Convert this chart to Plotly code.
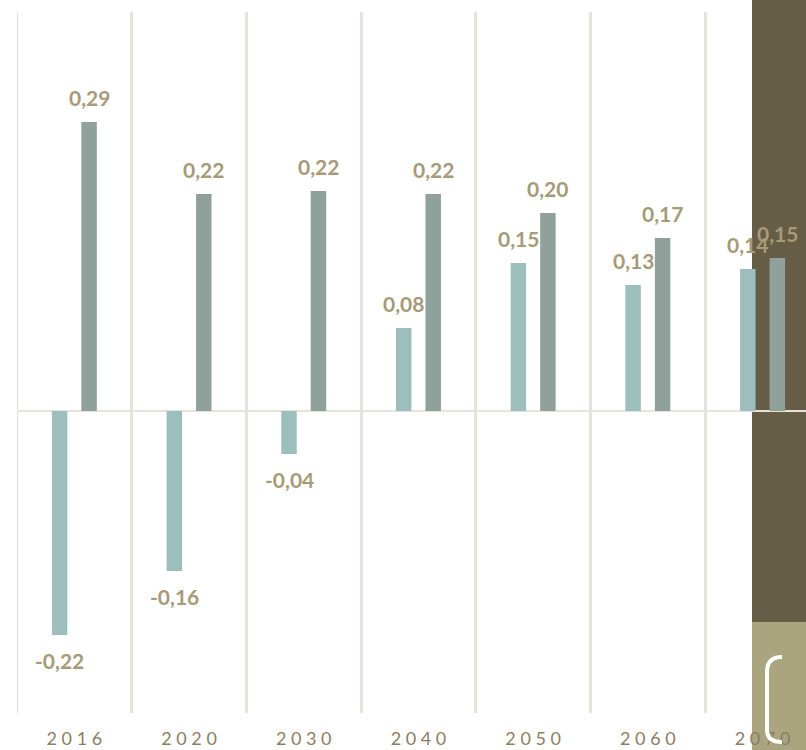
import plotly.graph_objects as go

years = ["2016", "2020", "2030", "2040", "2050", "2060", "2070"]
serie_a = [-0.224, -0.160, -0.043, 0.083, 0.148, 0.126, 0.142]
serie_b = [0.289, 0.217, 0.220, 0.217, 0.198, 0.173, 0.153]

W, H = 806, 750
L, R, T, B = 17, 0, 12, 37
PW, PH = W - L - R, H - T - B
CAT = 114.7  # px per kategori
GRID = "#E6E3DA"


# pixel -> paper coords
def pxx(x):
    return (x - L) / PW


def pxy(y):
    return (H - B - y) / PH


fig = go.Figure()
fig.add_trace(go.Bar(x=years, y=serie_a, marker=dict(color="#9CBFBD", line=dict(width=0))))
fig.add_trace(go.Bar(x=years, y=serie_b, marker=dict(color="#8FA19A", line=dict(width=0))))

# etiketter
for serie, shift in ((serie_a, -14.75), (serie_b, 14.75)):
    for i, v in enumerate(serie):
        fig.add_annotation(
            xref="x", yref="y", x=i, y=v,
            text="<b>" + f"{v:.2f}".replace(".", ",") + "</b>", showarrow=False,
            xshift=shift, yshift=25 if v >= 0 else -25,
            font=dict(family="Lato", size=21, color="#A69A78"),
        )

# vänstra gridlinjen (plotly ritar den inte i kanten)
fig.add_shape(type="line", xref="x", yref="paper", layer="below",
              x0=-0.5, x1=-0.5, y0=0, y1=1, line=dict(color=GRID, width=2.5))

# bakgrundsblock till höger
fig.add_shape(type="rect", xref="paper", yref="paper", layer="below",
              x0=pxx(752), x1=pxx(820), y0=pxy(622), y1=pxy(-10),
              fillcolor="#665D46", line=dict(width=0))
fig.add_shape(type="rect", xref="paper", yref="paper", layer="below",
              x0=pxx(752), x1=pxx(820), y0=pxy(760), y1=pxy(622),
              fillcolor="#AAA57F", line=dict(width=0))
path = (f"M {pxx(782)},{pxy(657)} Q {pxx(767)},{pxy(657)} {pxx(767)},{pxy(672)} "
        f"L {pxx(767)},{pxy(730)} Q {pxx(767)},{pxy(742)} {pxx(782)},{pxy(742)}")
fig.add_shape(type="path", xref="paper", yref="paper", path=path,
              line=dict(color="white", width=4))

fig.update_layout(
    width=W, height=H,
    margin=dict(l=L, r=R, t=T, b=B, pad=0),
    paper_bgcolor="white", plot_bgcolor="rgba(0,0,0,0)",
    barmode="group", bargap=0.486, bargroupgap=0.475,
    showlegend=False,
)
fig.update_xaxes(
    type="category", range=[-0.5, -0.5 + PW / CAT], automargin=False,
    tickson="boundaries", showgrid=True, gridcolor=GRID, gridwidth=2.5,
    ticks="", tickvals=years, ticktext=[" ".join(y) for y in years],
    ticklabelstandoff=13,
    tickfont=dict(family="Lato", size=18, color="#8C7E62"),
    showline=False, zeroline=False,
)
fig.update_yaxes(
    range=[-(713 - 411) / 1000, (411 - 12) / 1000], automargin=False,
    showgrid=False, showticklabels=False, ticks="",
    zeroline=True, zerolinecolor=GRID, zerolinewidth=2,
)

fig.write_html("out.html", config={"displayModeBar": False},
               post_script="document.body.style.margin='0';")
